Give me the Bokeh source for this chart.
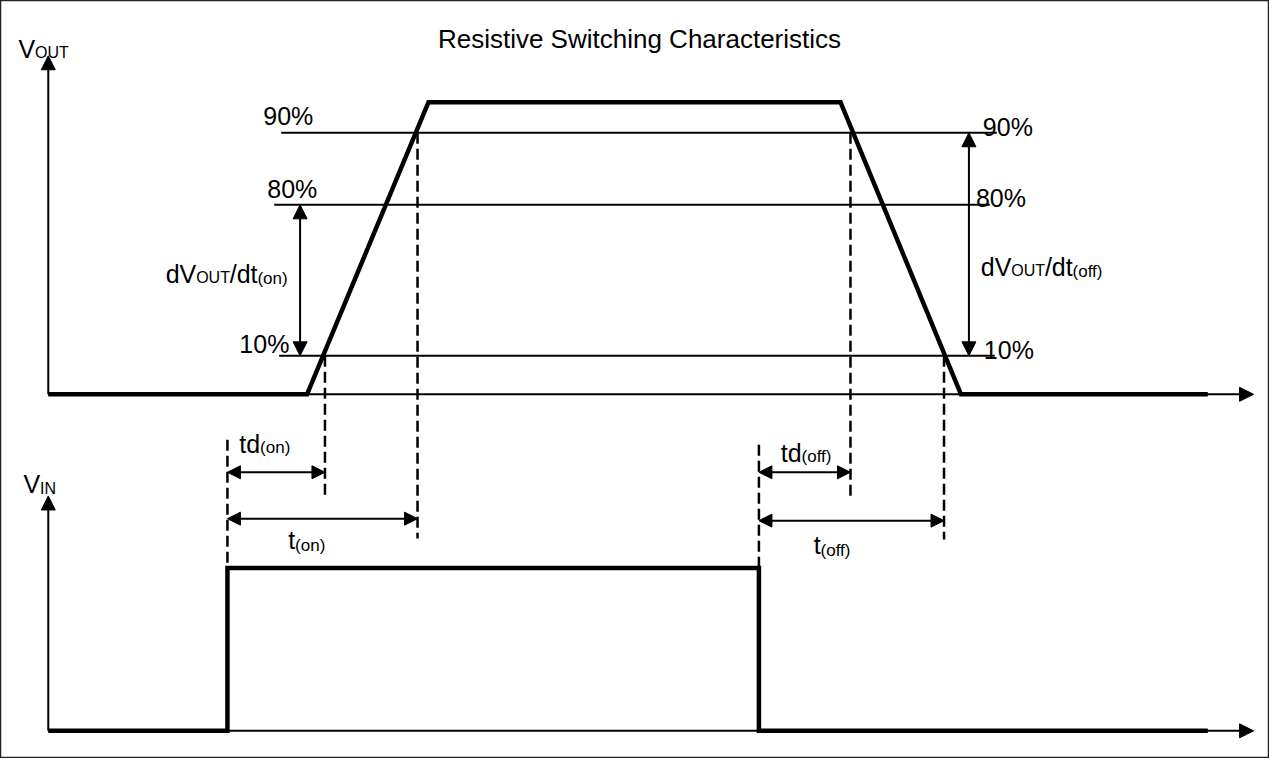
from bokeh.plotting import figure
from bokeh.models import Range1d, Arrow, NormalHead, ColumnDataSource
from bokeh.core.properties import value, field
from bokeh.embed import file_html
from bokeh.resources import INLINE

FONT = "Liberation Sans"

# ---- diagram data (time axis to the right, level axis downward in diagram units) ----
# Output waveform V_OUT
vout_time = [53, 313, 435, 849, 970, 1218]
vout_level = [402, 402, 106, 106, 402, 402]
# Input waveform V_IN
vin_time = [53, 233, 233, 767, 767, 1218]
vin_level = [743, 743, 578, 578, 743, 743]

# Threshold levels of V_OUT
level_names = ["90%", "80%", "10%"]
level_pos = [137, 210, 363]
level_start = [287, 280, 285]
level_end = [1006, 999, 1004]

# Axes (origin, tip)
axis_x0 = [53, 53, 53, 53]
axis_y0 = [402, 402, 743, 743]
axis_x1 = [53, 1264, 53, 1264]
axis_y1 = [59, 402, 505, 743]

# Dashed time markers
mark_time = [331, 424, 859, 953, 233, 767]
mark_top = [363, 137, 137, 363, 448, 453]
mark_bottom = [506, 548, 506, 549, 744, 744]

# Time intervals (double arrows)
interval_names = ["td(on)", "t(on)", "td(off)", "t(off)"]
interval_start = [233, 233, 767, 767]
interval_end = [331, 424, 859, 953]
interval_pos = [481, 528, 481, 530]

# Slope intervals (vertical double arrows)
slope_time = [306, 978]
slope_top = [210, 137]
slope_bottom = [363, 363]

# Arial / Liberation Sans advance widths (1/1000 em)
W = {"d": 556, "V": 667, "O": 778, "U": 722, "T": 611, "/": 278, "t": 278,
     "(": 333, ")": 333, "o": 556, "n": 556, "f": 278, "I": 278, "N": 722,
     "%": 889, "0": 556, "1": 556, "8": 556, "9": 556}


def tw(s, size):
    return sum(W.get(c, 556) for c in s) / 1000.0 * size


p = figure(width=1269, height=758,
           x_range=Range1d(5, 1280), y_range=Range1d(771, 3),
           output_backend="svg", toolbar_location=None,
           x_axis_location=None, y_axis_location=None,
           min_border=0)
p.grid.visible = False
p.outline_line_color = "#222222"
p.outline_line_width = 1.5
p.background_fill_color = "white"
p.border_fill_color = "white"

# axes lines with arrow heads
for x0, y0, x1, y1 in zip(axis_x0, axis_y0, axis_x1, axis_y1):
    p.add_layout(Arrow(end=NormalHead(size=14, fill_color="black", line_color="black", line_width=1),
                       x_start=x0, y_start=y0, x_end=x1, y_end=y1,
                       line_color="black", line_width=2))

# level lines
p.multi_line(xs=[[a, b] for a, b in zip(level_start, level_end)],
             ys=[[y, y] for y in level_pos], line_color="black", line_width=2)

# dashed markers
p.multi_line(xs=[[x, x] for x in mark_time],
             ys=[[a, b] for a, b in zip(mark_top, mark_bottom)],
             line_color="black", line_width=2.5, line_dash="11 5")

# waveforms
p.line(vout_time, vout_level, line_color="black", line_width=4.5, line_join="miter")
p.line(vin_time, vin_level, line_color="black", line_width=4.5, line_join="miter")

# interval double arrows
for x0, x1, y in zip(interval_start, interval_end, interval_pos):
    p.add_layout(Arrow(start=NormalHead(size=13, fill_color="black", line_color="black", line_width=1),
                       end=NormalHead(size=13, fill_color="black", line_color="black", line_width=1),
                       x_start=x0, y_start=y, x_end=x1, y_end=y,
                       line_color="black", line_width=2))

for x, y0, y1 in zip(slope_time, slope_top, slope_bottom):
    p.add_layout(Arrow(start=NormalHead(size=14, fill_color="black", line_color="black", line_width=1),
                       end=NormalHead(size=14, fill_color="black", line_color="black", line_width=1),
                       x_start=x, y_start=y0, x_end=x, y_end=y1,
                       line_color="black", line_width=2))

# ---- texts ----
txt = {"x": [], "y": [], "text": [], "size": []}


def label(parts, x, y):
    for text, size, dy in parts:
        txt["x"].append(x)
        txt["y"].append(y + dy)
        txt["text"].append(text)
        txt["size"].append(f"{size}px")
        x += tw(text, size)


MAIN = 25
SUB = 17

label([("V", MAIN, 0), ("OUT", 16, 4)], 23, 52)
label([("V", MAIN, 0), ("IN", 16, 4)], 28, 493)

left_pct_x = [269, 273, 245]
left_pct_y = [120, 194, 351]
right_pct_x = [992, 985, 993]
right_pct_y = [131, 203, 357]
for n, x, y in zip(level_names, left_pct_x, left_pct_y):
    label([(n, MAIN, 0)], x, y)
for n, x, y in zip(level_names, right_pct_x, right_pct_y):
    label([(n, MAIN, 0)], x, y)

label([("dV", MAIN, 0), ("OUT", 16, 4), ("/dt", MAIN, 0), ("(on)", SUB, 5)], 171, 280)
label([("dV", MAIN, 0), ("OUT", 16, 4), ("/dt", MAIN, 0), ("(off)", SUB, 5)], 990, 273)

label([("td", MAIN, 0), ("(on)", SUB, 4)], 245, 452)
label([("t", MAIN, 0), ("(on)", SUB, 5)], 294, 550)
label([("td", MAIN, 0), ("(off)", SUB, 4)], 789, 461)
label([("t", MAIN, 0), ("(off)", SUB, 5)], 822, 555)

src = ColumnDataSource(txt)
p.text(x="x", y="y", text="text", source=src, text_font_size=field("size"),
       text_font=value(FONT), text_color="black",
       text_baseline="alphabetic", text_align="left")

p.text(x=[647], y=[42], text=["Resistive Switching Characteristics"],
       text_font=value(FONT), text_font_size="26px", text_color="black",
       text_baseline="alphabetic", text_align="center")

open("out.html", "w").write(file_html(p, INLINE))
